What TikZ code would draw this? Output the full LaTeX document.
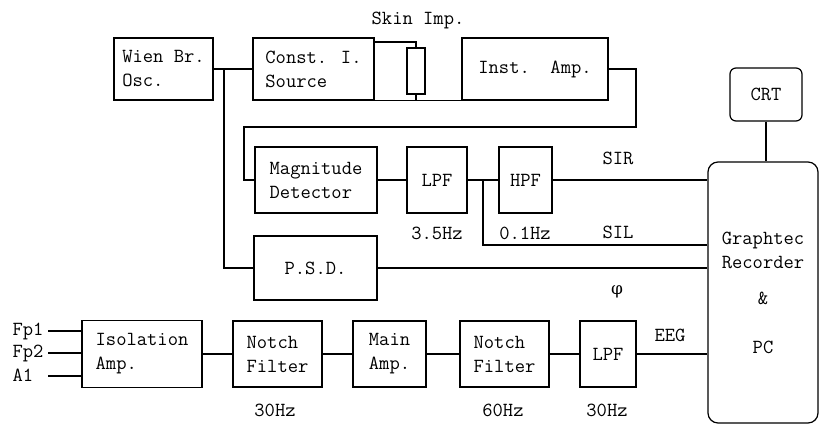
\documentclass[tikz,border=0pt]{standalone}
\usepackage{fontspec}
\newfontfamily\phifont{DejaVu Serif}
\usetikzlibrary{calc,positioning}

\begin{document}
\begin{tikzpicture}[x=1pt,y=-1pt,line width=1.2pt,
  blk/.style={draw,inner sep=0pt,align=left,font=\ttfamily\fontsize{20}{24}\selectfont},
  lbl/.style={inner sep=0pt,font=\ttfamily\fontsize{20}{24}\selectfont}]
\useasboundingbox (0,0) rectangle (822,425);
% skin impedance path
\node[blk,minimum width=99pt,minimum height=62pt] (wien) at (163.5,69) {Wien Br.\\Osc.};
\node[blk,minimum width=121pt,minimum height=62pt] (csrc) at (313.5,69) {Const. I.\\Source};
\node[draw,minimum width=18pt,minimum height=46pt,inner sep=0pt] (skin) at (416,71) {};
\node[blk,minimum width=146pt,minimum height=62pt] (inst) at (535,69) {Inst.~~Amp.};
\node[lbl] (skinlbl) at (418,20) {Skin Imp.};
\node[blk,minimum width=122pt,minimum height=66pt] (mag) at (316,180) {Magnitude\\Detector};
\node[blk,minimum width=60pt,minimum height=66pt] (lpfa) at (437,180) {LPF};
\node[blk,minimum width=53pt,minimum height=66pt] (hpf) at (525.5,180) {HPF};
\node[blk,minimum width=123pt,minimum height=64pt] (psd) at (315.5,268) {P.S.D.};
\node[lbl] (fa) at (437,233) {3.5Hz};
\node[lbl] (fb) at (525,233) {0.1Hz};
\node[lbl] (sir) at (618,158) {SIR};
\node[lbl] (sil) at (618,232) {SIL};
\node[lbl,font=\phifont\fontsize{17}{20}\selectfont] (phi) at (617,292) {φ};
% recorder
\node[blk,align=center,rounded corners=10pt,minimum width=110pt,minimum height=261pt] (rec) at (763,292.5)
  {Graphtec\\Recorder\\[12pt]\&\\[25pt]PC};
\node[blk,align=center,rounded corners=6pt,minimum width=72pt,minimum height=53pt] (crt) at (766,94.5) {CRT};
% EEG path
\node[blk,minimum width=120pt,minimum height=67pt] (iso) at (142,354) {Isolation\\Amp.};
\node[blk,minimum width=89pt,minimum height=66pt] (nfa) at (277.5,354) {Notch\\Filter};
\node[blk,minimum width=73pt,minimum height=66pt] (amp) at (389.5,354) {Main\\Amp.};
\node[blk,minimum width=89pt,minimum height=66pt] (nfb) at (504.5,354) {Notch\\Filter};
\node[blk,minimum width=56pt,minimum height=66pt] (lpfb) at (608,354) {LPF};
\node[lbl] (fc) at (275,410) {30Hz};
\node[lbl] (fd) at (503,410) {60Hz};
\node[lbl] (fe) at (607,410) {30Hz};
\node[lbl] (eeg) at (670,335) {EEG};
\node[lbl,anchor=west] (fp1) at (12,331) {Fp1};
\node[lbl,anchor=west] (fp2) at (12,353) {Fp2};
\node[lbl,anchor=west] (aone) at (12,375) {A1};
\coordinate (ina) at (48,331);
\coordinate (inb) at (48,353);
\coordinate (inc) at (48,376);
\coordinate (ja) at (224,69);
\coordinate (jb) at (483,180);
\coordinate (silc) at (483,245);
\coordinate (fbr) at (636,127);
\coordinate (fbl) at (244,127);

\draw (wien) -- (csrc);
\draw (ja) |- (psd.west);
\draw ($(csrc.east)+(0,-27)$) -| (skin.north);
\draw (csrc.south east) -- (inst.south west);
\draw (skin.south) -- (skin.south |- inst.south west);
\draw ($(skin.east)+(0,-7)$) -- ($(skin.east)+(0,-7)$ -| inst.west);
\draw (inst.east) -| (fbr) -- (fbl) |- (mag.west);
\draw (mag) -- (lpfa); \draw (lpfa) -- (hpf);
\draw (jb) -- (silc) -- (silc -| rec.west);
\draw (hpf) -- (hpf -| rec.west);
\draw (psd) -- (psd -| rec.west);
\draw (crt) -- (crt |- rec.north);
\draw (ina) -- (ina -| iso.west);
\draw (inb) -- (inb -| iso.west);
\draw (inc) -- (inc -| iso.west);
\draw (iso) -- (nfa); \draw (nfa) -- (amp); \draw (amp) -- (nfb); \draw (nfb) -- (lpfb);
\draw (lpfb) -- (lpfb -| rec.west);
\end{tikzpicture}
\end{document}
